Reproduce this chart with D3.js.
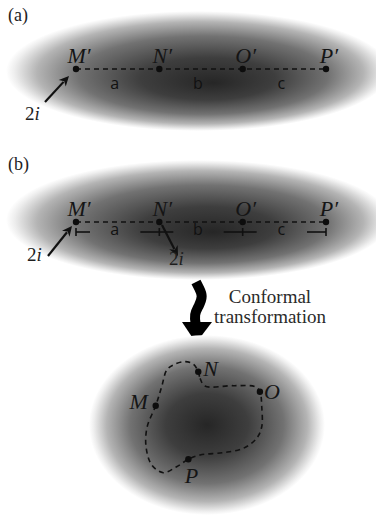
<!DOCTYPE html>
<html>
<head>
<meta charset="utf-8">
<script src="https://cdn.jsdelivr.net/npm/d3@7/dist/d3.min.js"></script>
<style>
  html, body { margin: 0; padding: 0; background: #fff; }
  svg { display: block; }
  .serif { font-family: "Liberation Serif", "Times New Roman", "DejaVu Serif", serif; }
  .sans { font-family: "Open Sans", "Liberation Sans", sans-serif; }
</style>
</head>
<body>
<svg id="fig" width="376" height="516"></svg>
<script>
// points on the straight strip, before the mapping
const stripPoints = ["M′", "N′", "O′", "P′"];
const stripSegments = ["a", "b", "c"];
const panelTags = ["(a)", "(b)"];
const captionLines = ["Conformal", "transformation"];

// closed loop after the conformal map, in % of the blob's box (x, y)
const loopNodes = [
  [46.2, 19.4], [47.0, 23.2], [49.1, 27.6], [61.4, 27.4], [70.9, 28.0],
  [73.0, 30.9], [73.8, 39.5], [73.8, 51.0], [71.6, 57.6], [65.8, 63.4],
  [57.1, 65.9], [47.0, 67.2], [41.9, 69.7], [36.8, 74.0], [31.0, 77.4],
  [26.0, 73.0], [23.5, 62.5], [24.0, 51.0], [27.7, 38.9], [30.3, 28.0],
  [32.5, 18.4], [35.3, 15.5], [40.4, 13.6], [44.0, 14.9]
];
// which loop node carries which point
const loopPointNames = ["N", "O", "P", "M"];
const loopPointNodes = [0, 5, 12, 18];

const svg = d3.select("#fig");
const defs = svg.append("defs");

function shade(id, fx, fy) {
  const g = defs.append("radialGradient").attr("id", id)
    .attr("cx", "50%").attr("cy", "50%").attr("r", "50%")
    .attr("fx", fx).attr("fy", fy);
  [[0, "#262626"], [0.35, "#3e3e3e"], [0.65, "#727272"], [0.85, "#b4b4b4"], [0.96, "#eeeeee"], [1, "#ffffff"]]
    .forEach(s => g.append("stop").attr("offset", s[0]).attr("stop-color", s[1]));
}
shade("shadeA", "54%", "60%");
shade("shadeB", "54%", "60%");
shade("shadeC", "50%", "50%");

const x = d3.scalePoint().domain(stripPoints).range([76, 326]);

function arrow(g, x1, y1, x2, y2) {
  const len = Math.hypot(x2 - x1, y2 - y1);
  const ux = (x2 - x1) / len, uy = (y2 - y1) / len;
  const hl = 10, hw = 4.8;
  const bx = x2 - ux * hl, by = y2 - uy * hl;
  g.append("line")
    .attr("x1", x1).attr("y1", y1).attr("x2", bx + ux * 2).attr("y2", by + uy * 2)
    .attr("stroke", "#111").attr("stroke-width", 2.2);
  g.append("path")
    .attr("d", d3.line()([[x2, y2], [bx - uy * hw, by + ux * hw], [bx + ux * 3, by + uy * 3], [bx + uy * hw, by - ux * hw]]) + "Z")
    .attr("fill", "#111");
}

function twoI(g, tx, ty) {
  const t = g.append("text").attr("class", "serif").attr("x", tx).attr("y", ty)
    .attr("font-size", 19).attr("fill", "#1e1e1e");
  t.append("tspan").text("2");
  t.append("tspan").attr("font-style", "italic").text("i");
}

function strip(tag, lineY, shadeId, cy, withRuler) {
  const g = svg.append("g");
  g.append("ellipse").attr("cx", 198).attr("cy", cy).attr("rx", 192).attr("ry", 60)
    .attr("fill", `url(#${shadeId})`);
  g.append("text").attr("class", "serif").attr("x", 8).attr("y", cy - 50)
    .attr("font-size", 18).attr("fill", "#222").text(tag);

  g.append("line")
    .attr("x1", x(stripPoints[0])).attr("x2", x(stripPoints[stripPoints.length - 1]))
    .attr("y1", lineY).attr("y2", lineY)
    .attr("stroke", "#111").attr("stroke-width", 1.5).attr("stroke-dasharray", "5,4");

  g.selectAll("circle.pt").data(stripPoints).join("circle")
    .attr("class", "pt").attr("cx", d => x(d)).attr("cy", lineY).attr("r", 3.2).attr("fill", "#0d0d0d");

  g.selectAll("text.pl").data(stripPoints).join("text")
    .attr("class", "pl serif").attr("x", d => x(d) + 3).attr("y", lineY - 6)
    .attr("text-anchor", "middle").attr("font-style", "italic")
    .attr("font-size", 22).attr("fill", "#151515").text(d => d);

  const segY = withRuler ? lineY + 13 : lineY + 20;
  g.selectAll("text.sl").data(stripSegments).join("text")
    .attr("class", "sl sans")
    .attr("x", (d, i) => (x(stripPoints[i]) + x(stripPoints[i + 1])) / 2 - 3)
    .attr("y", segY)
    .attr("text-anchor", "middle").attr("font-size", 16)
    .attr("fill", "#111").text(d => d);

  if (withRuler) {
    const ry = lineY + 10;
    g.selectAll("line.tick").data(stripPoints).join("line")
      .attr("class", "tick").attr("x1", d => x(d)).attr("x2", d => x(d))
      .attr("y1", ry - 4).attr("y2", ry + 4).attr("stroke", "#111").attr("stroke-width", 1.6);
    stripSegments.forEach((s, i) => {
      const x0 = x(stripPoints[i]), x1 = x(stripPoints[i + 1]);
      [[x0, x0 + 14], [x1 - 19, x1]].forEach(p => {
        g.append("line").attr("x1", p[0]).attr("x2", p[1]).attr("y1", ry).attr("y2", ry)
          .attr("stroke", "#111").attr("stroke-width", 1.6);
      });
    });
  }
  return g;
}

const gA = strip(panelTags[0], 69, "shadeA", 71, false);
arrow(gA, 45, 102, 69, 76);
twoI(gA, 25, 120);

const gB = strip(panelTags[1], 222, "shadeB", 220, true);
arrow(gB, 48, 256, 72, 226);
twoI(gB, 27, 261);
arrow(gB, 162, 225, 178, 256);
twoI(gB, 169, 265);

// wavy arrow of the mapping
const gW = svg.append("g");
gW.append("path")
  .attr("d", d3.line().curve(d3.curveBasis)([[196, 282], [199, 288], [203, 296], [199, 306], [194, 314], [196, 326]]))
  .attr("fill", "none").attr("stroke", "#000").attr("stroke-width", 10);
gW.append("path")
  .attr("d", d3.line()([[182, 322], [212, 322], [196, 343]]) + "Z")
  .attr("fill", "#000");

svg.append("text").attr("class", "serif").attr("x", 270).attr("y", 303).attr("text-anchor", "middle")
  .attr("font-size", 19).attr("fill", "#2a2a2a")
  .selectAll("tspan").data(captionLines).join("tspan")
  .attr("x", 270).attr("dy", (d, i) => i === 0 ? 0 : 20).text(d => d);

// mapped region
const bx = d3.scaleLinear().domain([0, 100]).range([92, 322]);
const by = d3.scaleLinear().domain([0, 100]).range([338, 512]);
const gC = svg.append("g");
gC.append("ellipse").attr("cx", bx(50)).attr("cy", by(50)).attr("rx", 118).attr("ry", 90)
  .attr("fill", "url(#shadeC)");
gC.append("path")
  .attr("d", d3.line().x(d => bx(d[0])).y(d => by(d[1])).curve(d3.curveCatmullRomClosed.alpha(0.5))(loopNodes))
  .attr("fill", "none").attr("stroke", "#111").attr("stroke-width", 1.6).attr("stroke-dasharray", "5,4");

const labelPos = {
  N: { dx: 5, dy: 4, anchor: "start" },
  O: { dx: 4, dy: 7, anchor: "start" },
  P: { dx: 3, dy: 24, anchor: "middle" },
  M: { dx: -8, dy: 3, anchor: "end" }
};
loopPointNames.forEach((n, i) => {
  const p = loopNodes[loopPointNodes[i]];
  gC.append("circle").attr("cx", bx(p[0])).attr("cy", by(p[1])).attr("r", 3.2).attr("fill", "#0d0d0d");
  gC.append("text").attr("class", "serif").attr("x", bx(p[0]) + labelPos[n].dx).attr("y", by(p[1]) + labelPos[n].dy)
    .attr("text-anchor", labelPos[n].anchor).attr("font-style", "italic")
    .attr("font-size", 22).attr("fill", "#151515").text(n);
});
</script>
</body>
</html>
